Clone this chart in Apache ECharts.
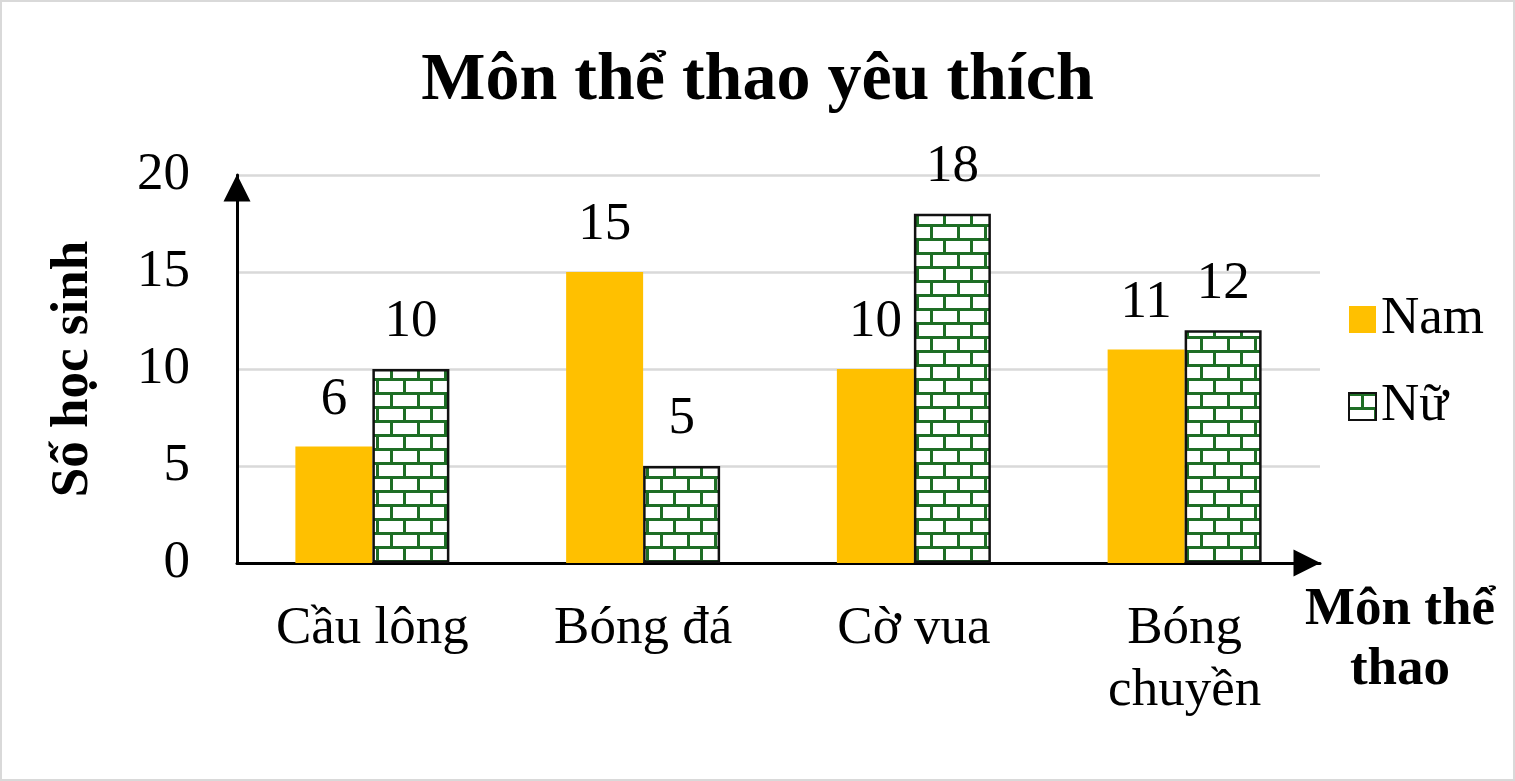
<!DOCTYPE html>
<html>
<head>
<meta charset="utf-8">
<style>
  html, body { margin: 0; padding: 0; background: #fff; }
  #chart { width: 1515px; height: 781px; }
</style>
<script src="https://cdn.jsdelivr.net/npm/echarts@6/dist/echarts.min.js"></script>
</head>
<body>
<div id="chart"></div>
<script>
// dữ liệu
var categories = ['Cầu lông', 'Bóng đá', 'Cờ vua', 'Bóng\nchuyền'];
var namData = [6, 15, 10, 11];
var nuData = [10, 5, 18, 12];
var seriesNames = ['Nam', 'Nữ'];

var font = "'Liberation Serif', 'Times New Roman', serif";

// hoa văn gạch cho cột Nữ
function brickPattern () {
  var c = document.createElement('canvas');
  c.width = 27;
  c.height = 28;
  var ctx = c.getContext('2d');
  ctx.fillStyle = '#fff';
  ctx.fillRect(0, 0, 27, 28);
  ctx.fillStyle = '#1e6e25';
  ctx.fillRect(0, 0, 27, 3);
  ctx.fillRect(0, 14, 27, 3);
  ctx.fillRect(12, 3, 3, 11);
  ctx.fillRect(25, 17, 2, 11);
  ctx.fillRect(0, 17, 1, 11);
  return c;
}

var chart = echarts.init(document.getElementById('chart'));

var option = {
  backgroundColor: '#fff',
  animation: false,
  title: {
    text: 'Môn thể thao yêu thích',
    left: 'center',
    top: 42,
    textStyle: {
      fontFamily: font,
      fontSize: 68,
      fontWeight: 'bold',
      color: '#000'
    }
  },
  graphic: [{
    type: 'rect',
    shape: { x: 1, y: 1, width: 1513, height: 779 },
    style: { fill: 'none', stroke: '#d9d9d9', lineWidth: 2 },
    z: -10
  }],
  legend: {
    orient: 'vertical',
    left: 1343,
    top: 288,
    icon: 'rect',
    itemWidth: 27,
    itemHeight: 27,
    itemGap: 34,
    data: seriesNames,
    textStyle: {
      fontFamily: font,
      fontSize: 53,
      color: '#000'
    }
  },
  grid: {
    left: 237,
    right: 195,
    top: 175,
    bottom: 218,
    containLabel: false
  },
  xAxis: {
    type: 'category',
    data: categories,
    name: 'Môn thể\nthao',
    nameLocation: 'end',
    nameGap: 80,
    nameTextStyle: {
      fontFamily: font,
      fontSize: 53,
      fontWeight: 'bold',
      color: '#000',
      align: 'center',
      verticalAlign: 'top',
      lineHeight: 60,
      padding: [17, 0, 0, 0]
    },
    axisLine: {
      show: true,
      symbol: ['none', 'triangle'],
      symbolSize: [27, 27],
      symbolOffset: [0, -13],
      lineStyle: { color: '#000', width: 3 }
    },
    axisTick: { show: false },
    axisLabel: {
      margin: 35,
      fontFamily: font,
      fontSize: 53,
      lineHeight: 62,
      color: '#000'
    }
  },
  yAxis: {
    type: 'value',
    min: 0,
    max: 20,
    interval: 5,
    name: 'Số học sinh',
    nameLocation: 'middle',
    nameGap: 137,
    nameRotate: 90,
    nameTextStyle: {
      fontFamily: font,
      fontSize: 53,
      fontWeight: 'bold',
      color: '#000'
    },
    axisLine: {
      show: true,
      symbol: ['none', 'triangle'],
      symbolSize: [27, 27],
      symbolOffset: [0, -13],
      lineStyle: { color: '#000', width: 3 }
    },
    axisTick: { show: false },
    axisLabel: {
      margin: 47,
      fontFamily: font,
      fontSize: 53,
      color: '#000'
    },
    splitLine: {
      lineStyle: { color: '#d9d9d9', width: 2.5 }
    }
  },
  series: [
    {
      name: seriesNames[0],
      type: 'bar',
      data: namData,
      barWidth: 77,
      barGap: '0%',
      itemStyle: { color: '#ffc000' },
      label: {
        show: true,
        position: 'top',
        distance: 20,
        fontFamily: font,
        fontSize: 53,
        color: '#000'
      }
    },
    {
      name: seriesNames[1],
      type: 'bar',
      data: nuData,
      barWidth: 77,
      barGap: '0%',
      itemStyle: {
        color: { image: brickPattern(), repeat: 'repeat' },
        borderColor: '#111',
        borderWidth: 2.5
      },
      label: {
        show: true,
        position: 'top',
        distance: 20,
        fontFamily: font,
        fontSize: 53,
        color: '#000'
      }
    }
  ]
};

chart.setOption(option);
</script>
</body>
</html>
